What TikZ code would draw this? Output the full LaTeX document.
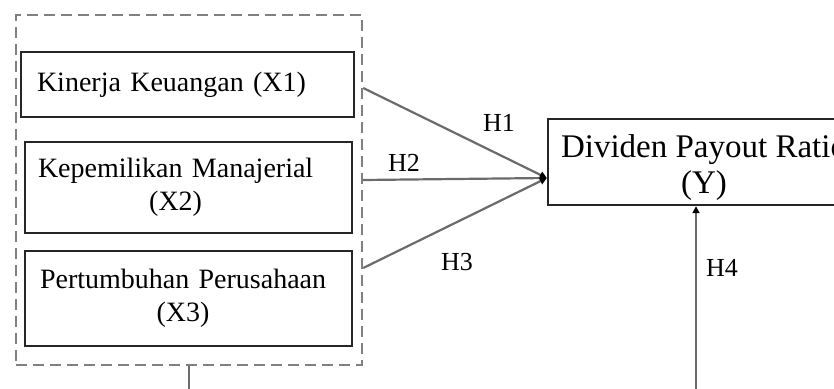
\documentclass[tikz,border=0pt]{standalone}
\usepackage{fontspec}
\setmainfont{Liberation Serif}
\usetikzlibrary{arrows.meta,calc}
\begin{document}
\begin{tikzpicture}[x=1pt,y=-1pt,
  box/.style={draw=black!85, line width=2.4pt, rectangle, inner ysep=0pt, font=\fontsize{28}{33}\selectfont},
  grp/.style={draw=black!50, dash pattern=on 11pt off 6pt, line width=2.4pt, rectangle, inner sep=0pt},
  conn/.style={draw=black!58, line width=2.2pt},
  tip/.style={-{Triangle[length=7pt,width=7pt,color=black]}},
  hlab/.style={font=\fontsize{26}{30}\selectfont, inner sep=0pt}
]
\useasboundingbox (0,0) rectangle (834,388);
\clip (0,0) rectangle (834,388);
\fill[white] (0,0) rectangle (834,388);

\node[grp, minimum width=346pt, minimum height=350pt] (g) at (189,190) {};

\node[box, minimum width=333pt, minimum height=65pt, inner xsep=16pt, text width=301pt, align=left] (x1) at (187.5,84.5) {Kinerja Keuangan (X1)};
\node[box, minimum width=327pt, minimum height=91pt, inner xsep=13pt, text width=301pt, align=left] (x2) at (188.5,187.5) {\begin{tabular}{@{}c@{}}Kepemilikan Manajerial\\(X2)\end{tabular}};
\node[box, minimum width=327pt, minimum height=95pt, inner xsep=15pt, text width=297pt, align=left] (x3) at (188.5,298.5) {\begin{tabular}{@{}c@{}}Pertumbuhan Perusahaan\\(X3)\end{tabular}};

\node[box, font=\fontsize{33}{36}\selectfont, minimum width=312pt, minimum height=86pt] (y) at (704,162) {\raisebox{0pt}[\dimexpr\height+12pt\relax]{\begin{tabular}{@{}c@{}}Dividen Payout Ratio\\(Y)\end{tabular}}};

\coordinate (s1) at (g.east |- 0,88);
\coordinate (s2) at (g.east |- 0,180);
\coordinate (s3) at (g.east |- 0,268);
\coordinate (j) at (y.west |- 0,178);

\draw[conn, tip] (s1) -- (j);
\draw[conn, tip] (s2) -- (j);
\draw[conn, tip] (s3) -- (j);

\coordinate (k1) at (g.south |- 0,395);
\coordinate (k2) at (696,395);
\coordinate (k3) at (k2 |- y.south);
\draw[conn, tip] (g.south) -- (k1) -- (k2) -- (k3);

\node[hlab] (h1) at (499,123) {H1};
\node[hlab] (h2) at (404,163) {H2};
\node[hlab] (h3) at (457,262) {H3};
\node[hlab] (h4) at (722,268) {H4};
\end{tikzpicture}
\end{document}
